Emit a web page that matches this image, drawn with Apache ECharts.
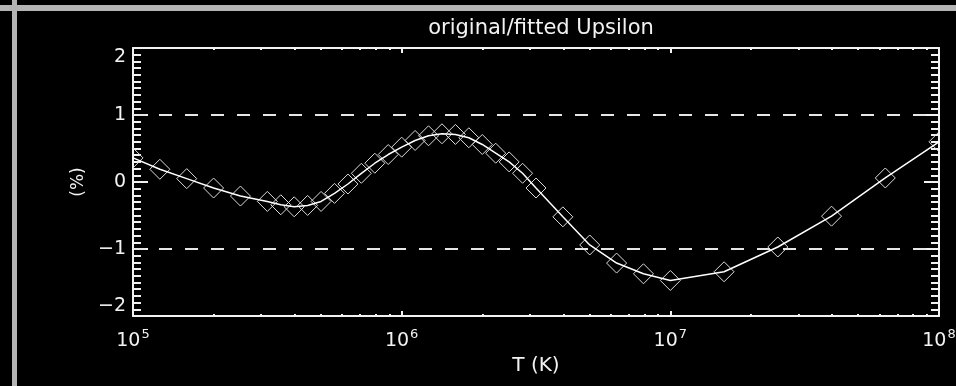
<!DOCTYPE html>
<html>
<head>
<meta charset="utf-8">
<script src="https://cdn.jsdelivr.net/npm/echarts@6/dist/echarts.min.js"></script>
<style>
  html, body { margin: 0; padding: 0; background: #000; }
  #chart { width: 956px; height: 386px; }
</style>
</head>
<body>
<div id="chart"></div>
<script>
// Temperature grid (log10 T) and the original/fitted deviation in percent
const logT = [5.0, 5.1, 5.2, 5.3, 5.4,
  5.5, 5.55, 5.6, 5.65, 5.7, 5.75, 5.8, 5.85, 5.9, 5.95,
  6.0, 6.05, 6.1, 6.15, 6.2, 6.25, 6.3, 6.35, 6.4, 6.45, 6.5,
  6.6, 6.7, 6.8, 6.9, 7.0, 7.2, 7.4, 7.6, 7.8, 8.0];
const ratio = [0.36, 0.19, 0.05, -0.09, -0.21,
  -0.29, -0.34, -0.37, -0.35, -0.29, -0.17, -0.03, 0.13, 0.28, 0.41,
  0.52, 0.62, 0.69, 0.72, 0.71, 0.66, 0.56, 0.43, 0.30, 0.13, -0.09,
  -0.52, -0.94, -1.21, -1.37, -1.47, -1.34, -0.97, -0.51, 0.06, 0.60];
const xRange = [1e5, 1e8];
const yRange = [-2, 2];
const refLevels = [1, -1];

const points = logT.map((lt, i) => [Math.pow(10, lt), ratio[i]]);

const FG = '#f2f2f2';
const FONT = 'DejaVu Sans';

const chart = echarts.init(document.getElementById('chart'), null, { renderer: 'canvas' });

function xAxisDef(pos, withLabels) {
  return {
    type: 'log', logBase: 10, min: xRange[0], max: xRange[1], splitNumber: 3,
    position: pos,
    axisLine: { show: true, onZero: false, lineStyle: { color: FG, width: 2 } },
    axisTick: { show: true, inside: true, length: 5, lineStyle: { color: FG, width: 2 } },
    minorTick: { show: true, splitNumber: 9, length: 2, lineStyle: { color: FG, width: 2 } },
    splitLine: { show: false }, minorSplitLine: { show: false },
    axisLabel: withLabels ? {
      show: true, margin: 12, color: FG, fontFamily: FONT, fontSize: 19,
      formatter: v => '10{s|' + Math.round(Math.log10(v)) + '}',
      rich: { s: { fontSize: 13, fontFamily: FONT, color: FG, padding: [0, 0, 14, 1] } }
    } : { show: false },
    name: withLabels ? 'T (K)' : '', nameLocation: 'middle', nameGap: 40,
    nameTextStyle: { color: FG, fontFamily: FONT, fontSize: 20 }
  };
}

function yAxisDef(pos, withLabels) {
  return {
    type: 'value', min: yRange[0], max: yRange[1], interval: 1, position: pos,
    axisLine: { show: true, onZero: false, lineStyle: { color: FG, width: 2 } },
    axisTick: { show: true, inside: true, length: 15, lineStyle: { color: FG, width: 2 } },
    minorTick: { show: true, splitNumber: 10, length: 8, lineStyle: { color: FG, width: 2 } },
    splitLine: { show: false }, minorSplitLine: { show: false },
    axisLabel: withLabels ? {
      show: true, margin: 7, color: FG, fontFamily: FONT, fontSize: 19,
      verticalAlignMinLabel: 'bottom', verticalAlignMaxLabel: 'top',
      formatter: v => String(v).replace('-', '\u2212')
    } : { show: false },
    name: withLabels ? '(%)' : '', nameLocation: 'middle', nameRotate: 90, nameGap: 46,
    nameTextStyle: { color: FG, fontFamily: FONT, fontSize: 17 }
  };
}

chart.setOption({
  backgroundColor: '#000',
  animation: false,
  title: {
    text: 'original/fitted Upsilon', left: 536, top: 13, textAlign: 'center',
    textStyle: { color: FG, fontFamily: FONT, fontSize: 21, fontWeight: 'normal' }
  },
  grid: { left: 133, right: 17, top: 48, bottom: 70, containLabel: false, outerBoundsMode: 'none' },
  xAxis: [xAxisDef('bottom', true), xAxisDef('top', false)],
  yAxis: [yAxisDef('left', true), yAxisDef('right', false)],
  graphic: [
    { type: 'rect', shape: { x: 0, y: 5, width: 956, height: 6 }, style: { fill: '#b4b4b4' }, silent: true },
    { type: 'rect', shape: { x: 12, y: 0, width: 5, height: 386 }, style: { fill: '#b4b4b4' }, silent: true }
  ],
  series: [
    {
      type: 'line', xAxisIndex: 0, yAxisIndex: 0, data: points,
      showSymbol: false, symbol: 'none',
      lineStyle: { color: '#ffffff', width: 1.5 },
      markLine: {
        silent: true, symbol: ['none', 'none'], label: { show: false },
        lineStyle: { color: '#e6e6e6', width: 2, type: [13, 13] },
        data: refLevels.map(v => ({ yAxis: v }))
      }
    },
    {
      type: 'custom', xAxisIndex: 0, yAxisIndex: 0, data: points, clip: true,
      encode: { x: 0, y: 1 },
      renderItem: (params, api) => {
        const p = api.coord([api.value(0), api.value(1)]);
        const h = 10;
        return {
          type: 'polygon',
          shape: { points: [[p[0], p[1] - h], [p[0] + h, p[1]], [p[0], p[1] + h], [p[0] - h, p[1]]] },
          style: { fill: 'none', stroke: '#dcdcdc', lineWidth: 1 }
        };
      }
    }
  ]
});
</script>
</body>
</html>
